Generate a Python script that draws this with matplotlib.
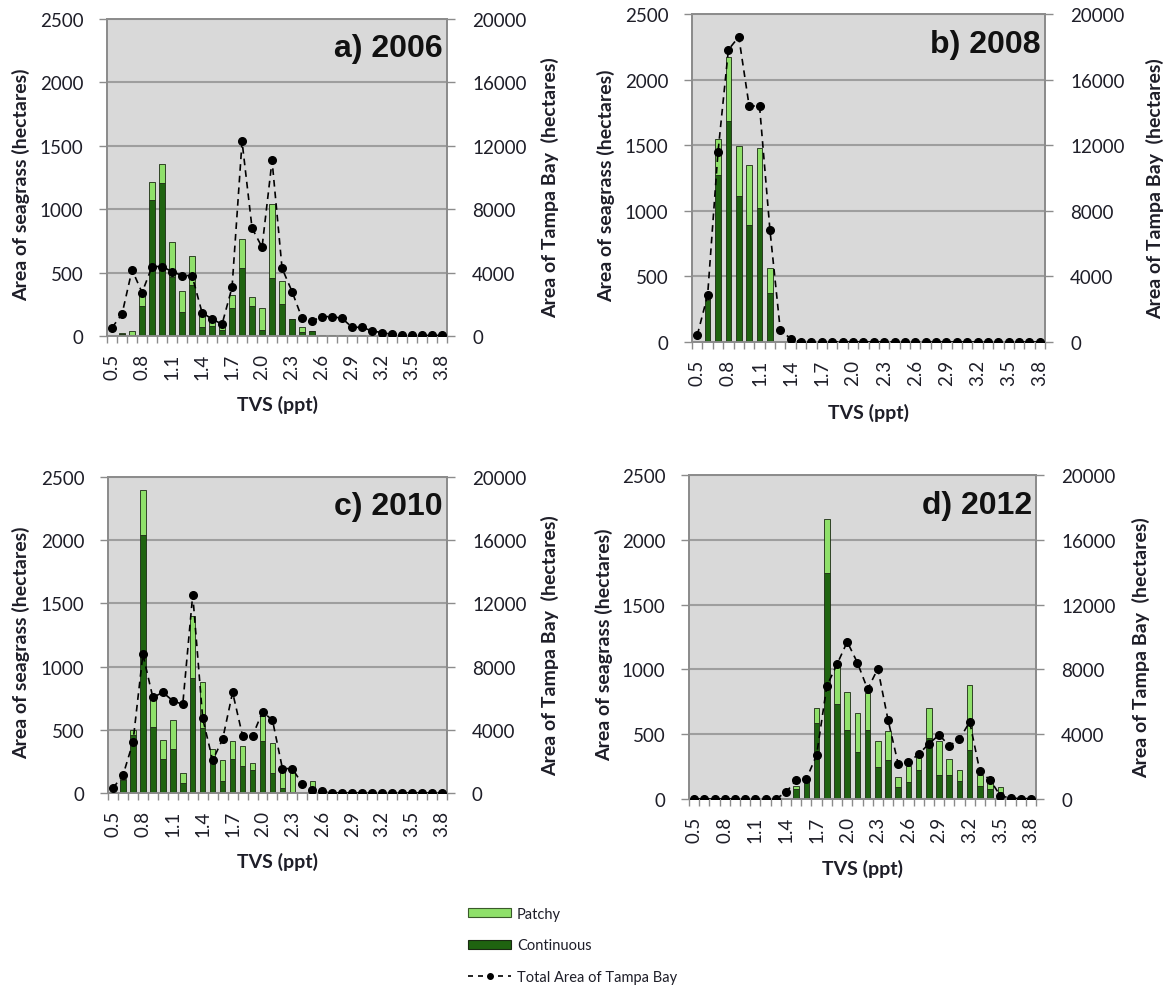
import numpy as np
import matplotlib
matplotlib.use("Agg")
import matplotlib.pyplot as plt
from matplotlib.patches import Patch
from matplotlib.lines import Line2D

plt.rcParams['font.family'] = ['Lato', 'DejaVu Sans']

tvs = [f"{0.5 + 0.1 * i:.1f}" for i in range(34)]

# 2006
cont_a = [0, 15, 5, 237, 1074, 1210, 468, 192, 403, 74, 79, 47, 218, 534, 237, 47, 455, 250,
          134, 34, 39, 5, 3, 0, 0, 0, 0, 0, 0, 0, 0, 0, 0, 0]
total_a = [0, 20, 40, 324, 1218, 1358, 739, 355, 632, 184, 113, 74, 324, 763, 310, 218, 1039, 437,
           134, 68, 39, 8, 8, 5, 5, 5, 0, 0, 0, 0, 0, 0, 0, 0]
bay_a = [526, 1390, 4170, 2740, 4380, 4380, 4060, 3810, 3810, 1470, 1070, 740, 3070, 12270, 6800,
         5600, 11070, 4270, 2800, 1115, 947, 1220, 1220, 1115, 547, 547, 316, 210, 105, 60, 30,
         30, 30, 30]

# 2008
cont_b = [0, 319, 1276, 1684, 1115, 893, 1020, 370] + [0] * 26
total_b = [0, 332, 1548, 2173, 1497, 1352, 1480, 561] + [0] * 26
bay_b = [408, 2857, 11590, 17820, 18610, 14390, 14390, 6840, 714, 204] + [0] * 24

# 2010
cont_c = [5, 100, 458, 2040, 524, 272, 347, 82, 913, 511, 241, 93, 272, 214, 180, 410, 161, 40,
          8, 0, 29] + [0] * 13
total_c = [10, 114, 497, 2394, 749, 423, 577, 161, 1397, 881, 352, 259, 410, 370, 241, 611, 397,
           167, 167, 0, 93] + [0] * 13
bay_c = [317, 1120, 3200, 8780, 6050, 6370, 5840, 5610, 12550, 4720, 2074, 3407, 6370, 3620, 3620,
         5140, 4614, 1545, 1545, 550, 212, 106] + [0] * 12

# 2012
cont_d = [0] * 10 + [77, 141, 585, 1744, 731, 531, 364, 531, 249, 300, 90, 133, 223, 467, 182,
                     182, 136, 379, 103, 77, 51, 0, 0, 0]
total_d = [0] * 10 + [103, 141, 705, 2162, 1026, 826, 662, 821, 449, 526, 172, 256, 321, 705, 449,
                      308, 226, 879, 185, 167, 90, 0, 0, 0]
bay_d = [0] * 9 + [410, 1170, 1230, 2710, 6970, 8310, 9700, 8410, 6770, 8040, 4880, 2150, 2260,
                   2770, 3400, 3960, 3280, 3690, 4760, 1700, 1170, 200, 50, 20, 20]

panels = [
    ("a) 2006", cont_a, total_a, bay_a, [0.0915, 0.6586, 0.2906, 0.3212], -0.226, 1.276),
    ("b) 2008", cont_b, total_b, bay_b, [0.5915, 0.6525, 0.3017, 0.3323], -0.218, 1.286),
    ("c) 2010", cont_c, total_c, bay_c, [0.0923, 0.1955, 0.2897, 0.3202], -0.230, 1.277),
    ("d) 2012", cont_d, total_d, bay_d, [0.5889, 0.1895, 0.2966, 0.3283], -0.219, 1.277),
]

DARK = '#1f6410'
LIGHT = '#8fe06a'
EDGE = '#1a2a12'
GRID = '#9e9e9e'
FRAME = '#8c8c8c'
TXT = '#1e1e28'

fig = plt.figure(figsize=(11.7, 9.87), dpi=100)

for title, cont, total, bay, rect, ylx, y2x in panels:
    x = np.arange(len(tvs))
    patch = np.array(total) - np.array(cont)
    ax = fig.add_axes(rect)
    ax.set_facecolor('#d9d9d9')
    ax.bar(x, cont, width=0.55, color=DARK, edgecolor=EDGE, linewidth=0.6, zorder=3)
    ax.bar(x, patch, bottom=cont, width=0.55, color=LIGHT, edgecolor=EDGE, linewidth=0.6, zorder=3)
    ax.set_xlim(-0.5, len(tvs) - 0.5)
    ax.set_ylim(0, 2500)
    ax.set_yticks(range(0, 2501, 500))
    ax.yaxis.grid(True, color=GRID, linewidth=1.5, zorder=1)
    ax.set_axisbelow(True)
    ax.set_xticks(x[::3])
    ax.set_xticklabels(tvs[::3], rotation=90, fontsize=13.5, color=TXT)
    ax.set_xticks(np.arange(-0.5, len(tvs)), minor=True)
    ax.tick_params(axis='x', which='major', length=0, pad=12)
    ax.tick_params(axis='x', which='minor', length=5, color=FRAME, width=1)
    ax.tick_params(axis='y', length=6, color=FRAME, width=1, labelsize=13.5, labelcolor=TXT, pad=11)
    for s in ax.spines.values():
        s.set_color(FRAME)
        s.set_linewidth(1.3)
    ax.set_ylabel('Area of seagrass (hectares)', fontsize=14, fontweight='bold', color=TXT)
    ax.yaxis.set_label_coords(ylx, 0.48)
    ax.set_xlabel('TVS (ppt)', fontsize=14, fontweight='bold', color=TXT)
    ax.xaxis.set_label_coords(0.5, -0.186)
    ax.text(0.988, 0.955, title, transform=ax.transAxes, ha='right', va='top',
            fontsize=23, fontweight='bold', family='Liberation Sans', color='#111111', zorder=5)

    ax2 = ax.twinx()
    ax2.plot(x, bay, color='black', linestyle='--', dashes=(4, 3), linewidth=1.2,
             marker='o', markersize=5.5, zorder=4)
    ax2.set_ylim(0, 20000)
    ax2.set_yticks(range(0, 20001, 4000))
    ax2.tick_params(axis='y', length=6, color=FRAME, width=1, labelsize=13.5, labelcolor=TXT, pad=12)
    for s in ax2.spines.values():
        s.set_color(FRAME)
        s.set_linewidth(1.3)
    ax2.set_ylabel('Area of Tampa Bay  (hectares)', fontsize=14, fontweight='bold', color=TXT)
    ax2.yaxis.set_label_coords(y2x, 0.47)

handles = [
    Patch(facecolor=LIGHT, edgecolor='#3a5a2a', linewidth=0.8),
    Patch(facecolor=DARK, edgecolor='#1a2a12', linewidth=0.8),
    Line2D([0], [0], color='black', linestyle='--', dashes=(3, 3), linewidth=1.2,
           marker='o', markersize=4),
]
labels = ['Patchy', 'Continuous', 'Total Area of Tampa Bay']
fig.legend(handles, labels, loc='upper left', bbox_to_anchor=(468 / 1170, 1 - 908 / 987),
           frameon=False, fontsize=10.5, handlelength=2.95, handleheight=0.55,
           handletextpad=0.4, labelspacing=1.2, borderpad=0, borderaxespad=0,
           labelcolor=TXT)

fig.savefig('out.png', dpi=100)
